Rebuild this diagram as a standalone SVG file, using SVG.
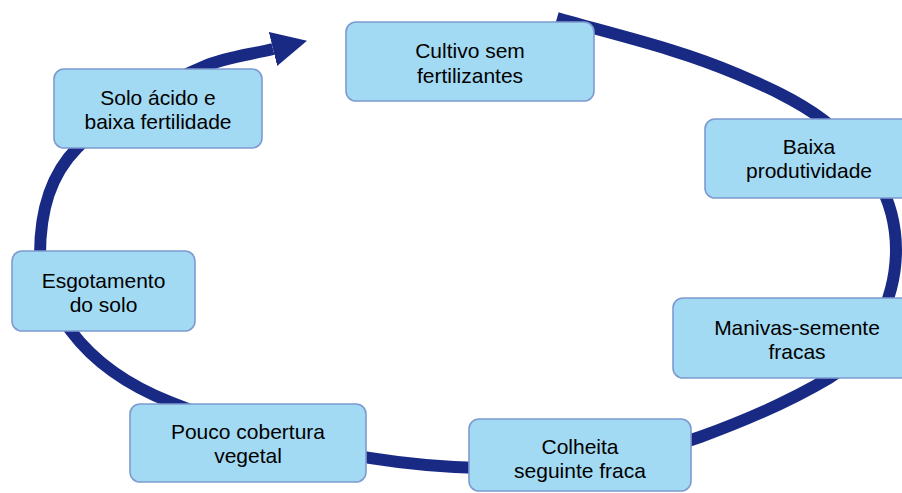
<svg xmlns="http://www.w3.org/2000/svg" width="902" height="493" viewBox="0 0 902 493">
<defs>
<style>
.box{fill:#a3daf3;stroke:#7d9bd0;stroke-width:1.6}
.lbl{font-family:"Liberation Sans",Arial,sans-serif;font-size:21px;fill:#000;text-anchor:middle}
.cycle{fill:none;stroke:#192a85;stroke-width:12}
</style>
<marker id="ah" markerUnits="userSpaceOnUse" markerWidth="35" markerHeight="35" viewBox="0 0 35 35" refX="0" refY="17.5" orient="auto">
<path d="M0,0 L35,17.5 L0,35 Z" fill="#192a85"/>
</marker>
</defs>
<rect width="902" height="493" fill="#fff"/>
<g id="connectors">
<path class="cycle" marker-end="url(#ah)" d="M557,18 C617.4,35.4 679.4,49.2 737,74 C766.4,86.6 796.4,99.8 822,119 C866,152 896,195 896,250 C896,298 870.3,353.5 829,378 C788.3,402.1 744.5,420.9 700,437 C630.4,462.2 554,469.5 480,468 C374.3,465.9 268.3,441.1 170,402 C132.2,387 95.4,363.5 71,331 C54.6,309.1 40,282.4 40,255 C40,210 50.6,174.8 77,148 C112.5,112 158.4,85.3 205,66 C226.3,57.2 250,54.6 273,49"/>
</g>
<g id="cultivo">
<rect class="box" x="346" y="22" width="248" height="79" rx="10"/>
<text class="lbl" x="470" y="58">Cultivo sem</text>
<text class="lbl" x="470" y="82.5">fertilizantes</text>
</g>
<g id="baixa">
<rect class="box" x="705" y="119" width="208" height="79" rx="10"/>
<text class="lbl" x="809" y="154">Baixa</text>
<text class="lbl" x="809" y="178">produtividade</text>
</g>
<g id="manivas">
<rect class="box" x="673" y="298" width="248" height="80" rx="10"/>
<text class="lbl" x="797" y="335">Manivas-semente</text>
<text class="lbl" x="797" y="358.5">fracas</text>
</g>
<g id="colheita">
<rect class="box" x="469" y="419" width="222" height="72" rx="10"/>
<text class="lbl" x="580" y="453.5">Colheita</text>
<text class="lbl" x="580" y="477.5">seguinte fraca</text>
</g>
<g id="pouco">
<rect class="box" x="130" y="404" width="236" height="78" rx="10"/>
<text class="lbl" x="248" y="439">Pouco cobertura</text>
<text class="lbl" x="248" y="463">vegetal</text>
</g>
<g id="esgotamento">
<rect class="box" x="12" y="251" width="183" height="80" rx="10"/>
<text class="lbl" x="103.5" y="288">Esgotamento</text>
<text class="lbl" x="103.5" y="312">do solo</text>
</g>
<g id="solo">
<rect class="box" x="54" y="69" width="208" height="79" rx="10"/>
<text class="lbl" x="158" y="105">Solo ácido e</text>
<text class="lbl" x="158" y="129">baixa fertilidade</text>
</g>
</svg>
